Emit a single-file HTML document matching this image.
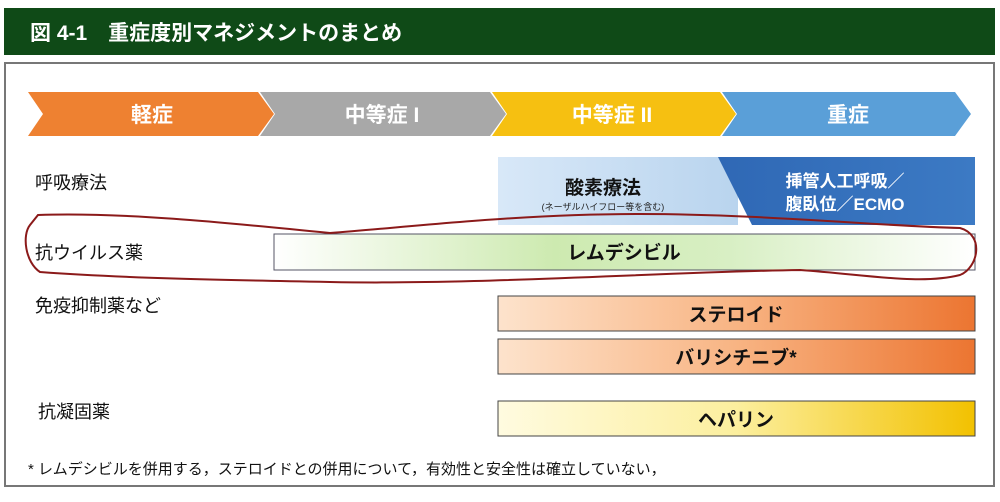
<!DOCTYPE html>
<html><head><meta charset="utf-8"><style>
body{margin:0;background:#fff;}
svg text{font-family:"Liberation Sans","Noto Sans CJK JP",sans-serif;}
</style></head><body>
<svg width="1000" height="497" viewBox="0 0 1000 497" xmlns="http://www.w3.org/2000/svg">
<defs>
<linearGradient id="lb" x1="0" x2="1"><stop offset="0" stop-color="#d8e8f8"/><stop offset="1" stop-color="#b9d4ee"/></linearGradient>
<linearGradient id="db" x1="0" x2="1"><stop offset="0" stop-color="#2f68b5"/><stop offset="1" stop-color="#3c7ac4"/></linearGradient>
<linearGradient id="gr" x1="0" x2="1"><stop offset="0" stop-color="#ffffff"/><stop offset="0.4" stop-color="#cdeab0"/><stop offset="0.65" stop-color="#d8efc4"/><stop offset="1" stop-color="#ffffff"/></linearGradient>
<linearGradient id="or" x1="0" x2="1"><stop offset="0" stop-color="#fde3cc"/><stop offset="0.5" stop-color="#f8b483"/><stop offset="1" stop-color="#ec7531"/></linearGradient>
<linearGradient id="ye" x1="0" x2="1"><stop offset="0" stop-color="#fffbe0"/><stop offset="0.5" stop-color="#fcef9e"/><stop offset="1" stop-color="#f2c100"/></linearGradient>
</defs>
<rect x="4" y="8" width="991" height="47" fill="#0f4a17"/>
<text x="30" y="40" font-size="21" font-weight="bold" fill="#fff">図 4-1　重症度別マネジメントのまとめ</text>
<rect x="5" y="63" width="989" height="423" fill="#fff" stroke="#777" stroke-width="2"/>
<polygon points="28,92 258,92 274,114 258,136 28,136 43,114" fill="#ee8131"/>
<polygon points="260,92 490,92 506,114 490,136 260,136 275,114" fill="#a8a8a8"/>
<polygon points="492,92 720,92 736,114 720,136 492,136 507,114" fill="#f6c011"/>
<polygon points="722,92 955,92 971,114 955,136 722,136 737,114" fill="#5a9fd8"/>
<g font-size="21" font-weight="bold" fill="#fff" text-anchor="middle">
<text x="152" y="122">軽症</text><text x="382" y="122">中等症 I</text><text x="612" y="122">中等症 II</text><text x="848" y="122">重症</text></g>
<rect x="498" y="157" width="240" height="68" fill="url(#lb)"/>
<polygon points="718,157 975,157 975,225 752,225" fill="url(#db)"/>
<text x="603" y="194" font-size="19" font-weight="bold" fill="#111" text-anchor="middle">酸素療法</text>
<text x="603" y="210" font-size="9" fill="#222" text-anchor="middle">(ネーザルハイフロー等を含む)</text>
<text x="845" y="187" font-size="17" font-weight="bold" fill="#fff" text-anchor="middle">挿管人工呼吸／</text>
<text x="845" y="210" font-size="17" font-weight="bold" fill="#fff" text-anchor="middle">腹臥位／ECMO</text>
<g font-size="18" fill="#111">
<text x="35" y="189">呼吸療法</text><text x="35" y="259">抗ウイルス薬</text><text x="35" y="312">免疫抑制薬など</text><text x="38" y="418">抗凝固薬</text></g>
<rect x="274" y="234" width="701" height="36" fill="url(#gr)" stroke="#556" stroke-width="1"/>
<rect x="498" y="296" width="477" height="35" fill="url(#or)" stroke="#444" stroke-width="1"/>
<rect x="498" y="339" width="477" height="35" fill="url(#or)" stroke="#444" stroke-width="1"/>
<rect x="498" y="401" width="477" height="35" fill="url(#ye)" stroke="#444" stroke-width="1"/>
<g font-size="19" font-weight="bold" fill="#111" text-anchor="middle">
<text x="624" y="259">レムデシビル</text><text x="736" y="321">ステロイド</text><text x="736" y="364">バリシチニブ*</text><text x="736" y="426">ヘパリン</text></g>
<text x="28" y="474" font-size="15" fill="#111">* レムデシビルを併用する，ステロイドとの併用について，有効性と安全性は確立していない，</text>
<path d="M38,215 C120,212 220,222 330,233 C420,226 520,214 640,214 C760,214 880,226 960,228 C985,235 978,268 960,275 C920,285 870,275 800,270 C660,272 480,285 330,282 C220,280 120,278 40,272 C25,262 22,235 30,225 Z" fill="none" stroke="#8b1a1a" stroke-width="2"/>
</svg>
</body></html>
